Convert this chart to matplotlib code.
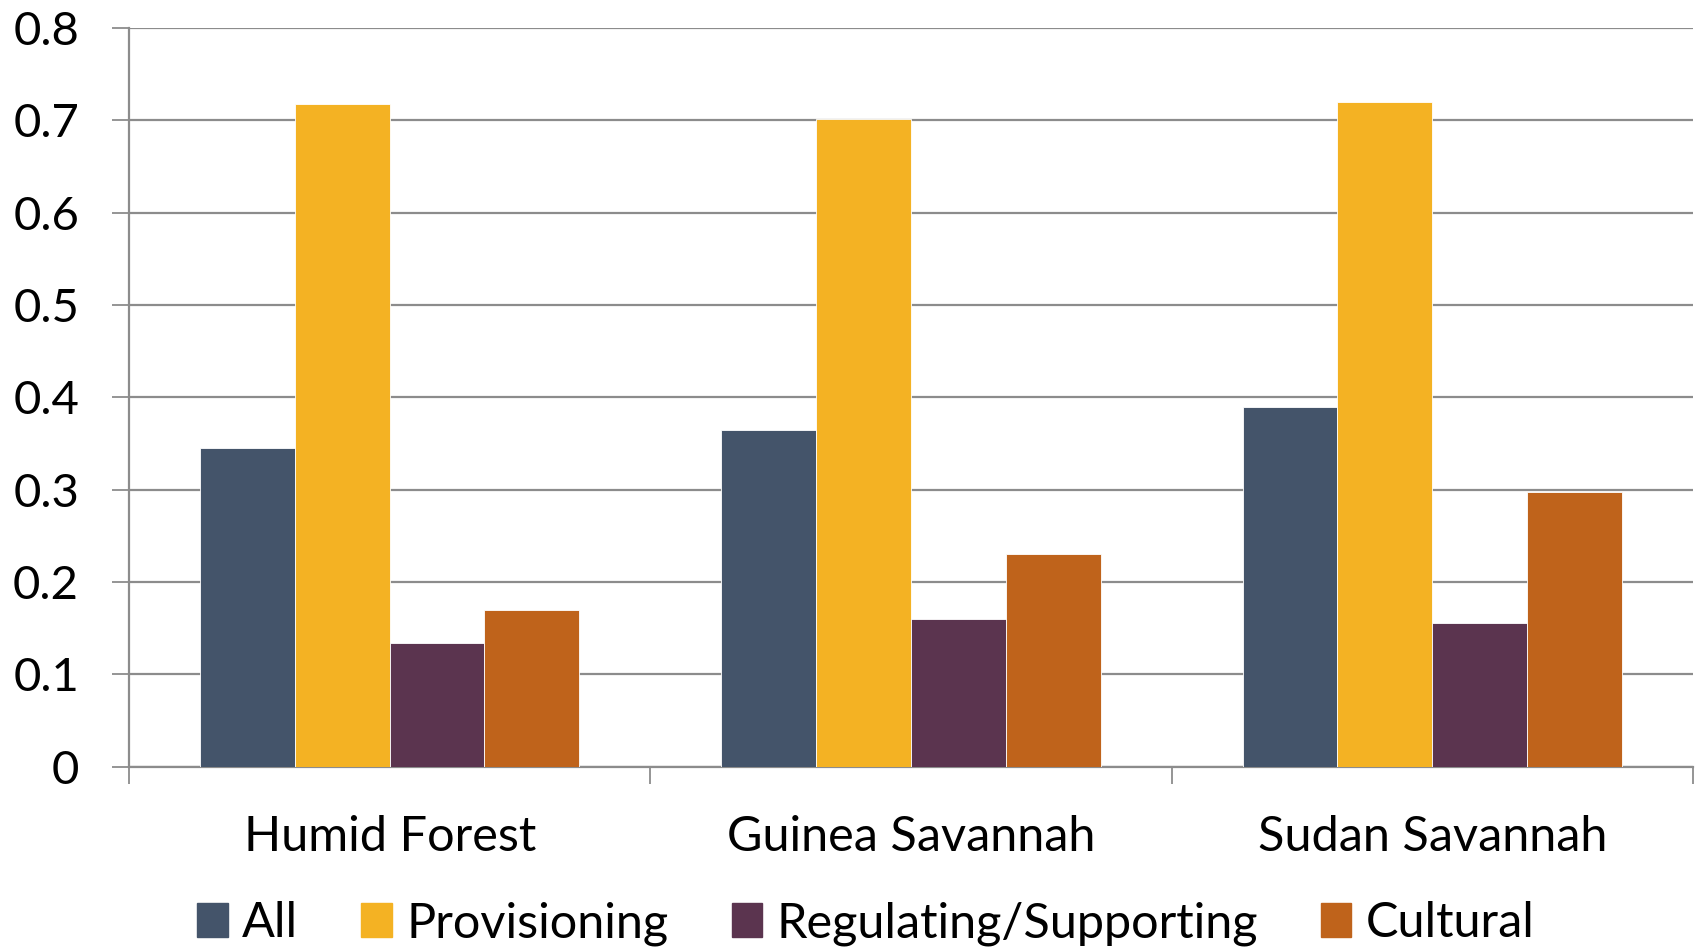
import numpy as np
import matplotlib.pyplot as plt
from matplotlib.patches import Patch

# dados
regioes = ["Humid Forest", "Guinea Savannah", "Sudan Savannah"]
series = ["All", "Provisioning", "Regulating/Supporting", "Cultural"]
val_all = [0.345, 0.365, 0.389]
val_prov = [0.718, 0.701, 0.720]
val_reg = [0.134, 0.160, 0.156]
val_cult = [0.170, 0.230, 0.297]
cores = ["#44546A", "#F4B223", "#5B344F", "#BF631B"]

plt.rcParams["font.family"] = ["Lato", "DejaVu Sans"]

fig = plt.figure(figsize=(16.98, 9.5), dpi=100)
ax = fig.add_axes([0.076, 0.193, 0.921, 0.7775])

x = np.arange(len(regioes))
largura = 1 / 5.5
valores = [val_all, val_prov, val_reg, val_cult]
for i, (nome, vals) in enumerate(zip(series, valores)):
    ax.bar(x + (i - 1.5) * largura, vals, width=largura, color=cores[i],
           edgecolor="white", linewidth=0.6, label=nome, zorder=3)

ax.set_xlim(-0.5, 2.5)
ax.set_ylim(0, 0.8)
ax.set_yticks(np.arange(0, 0.81, 0.1))
ax.set_yticklabels(["0", "0.1", "0.2", "0.3", "0.4", "0.5", "0.6", "0.7", "0.8"])
ax.yaxis.grid(True, color="#8c8c8c", linewidth=1.6, zorder=0)

# categorias no centro, ticks nas fronteiras
ax.set_xticks([-0.5, 0.5, 1.5, 2.5])
ax.set_xticklabels([])
ax.set_xticks(x, minor=True)
ax.set_xticklabels(regioes, minor=True)
ax.tick_params(axis="x", which="minor", length=0, pad=35, labelsize=35)
ax.tick_params(axis="x", which="major", length=12, width=1.3, color="#8c8c8c")
ax.tick_params(axis="y", length=12, width=1.3, color="#8c8c8c", pad=24, labelsize=34)

for lado in ["top", "right"]:
    ax.spines[lado].set_visible(False)
for lado in ["left", "bottom"]:
    ax.spines[lado].set_color("#8c8c8c")
    ax.spines[lado].set_linewidth(1.6)

handles = [Patch(color=c, label=s) for c, s in zip(cores, series)]
fig.legend(handles=handles, loc="center", bbox_to_anchor=(0.51, 0.028), ncol=4,
           frameon=False, fontsize=35, handlelength=0.62, handleheight=0.72,
           handletextpad=0.3, columnspacing=1.3)

fig.savefig("out.png", dpi=100)
